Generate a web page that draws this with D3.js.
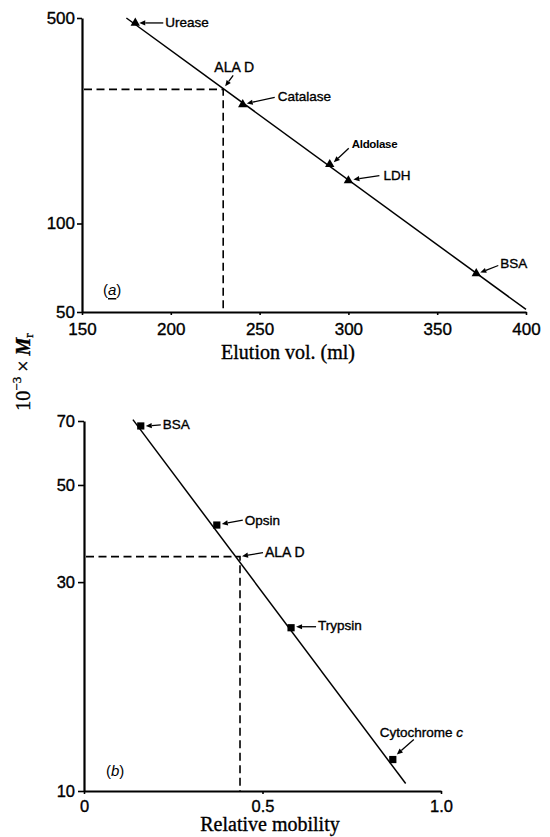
<!DOCTYPE html>
<html><head><meta charset="utf-8">
<script src="https://cdn.jsdelivr.net/npm/d3@7"></script>
<style>
body{margin:0;background:#fff;}
svg{display:block;}
text{fill:#000;}
.heavy{stroke:#000;stroke-width:0.35px;}
</style></head>
<body>
<svg id="c" width="550" height="837"></svg>
<script>
// ---------- Panel (a): gel filtration ----------
const aNames = ["Urease", "Catalase", "Aldolase", "LDH", "BSA"];
const aElution = [180, 240.5, 289.5, 300, 372];
const aMr = [481, 254, 159, 140, 67.6];
const aFitX = [175, 400];
const aFitY = [500, 51];
const aUnknown = {name: "ALA D", x: 229.5, y: 286};
const aXTicks = [150, 200, 250, 300, 350, 400];
const aYTicks = [50, 100, 500];

// ---------- Panel (b): SDS gel mobility ----------
const bNames = ["BSA", "Opsin", "Trypsin", "Cytochrome c"];
const bMobility = [0.159, 0.372, 0.580, 0.865];
const bMr = [68.2, 40.5, 23.6, 11.8];
const bFitX = [0.137, 0.901];
const bFitY = [70.5, 10.4];
const bUnknown = {name: "ALA D", x: 0.437, y: 34.3};
const bXTicks = [0, 0.5, 1.0];
const bYTicks = [10, 30, 50, 70];

const svg = d3.select("#c");
const SANS = "'Liberation Sans', Arial, Helvetica, sans-serif";
const SERIF = "'Liberation Serif', 'Times New Roman', serif";

function arrow(g, x1, y1, x2, y2) {
  const ang = Math.atan2(y2 - y1, x2 - x1);
  const L = 6, W = 2.6;
  const bx = x2 - L * Math.cos(ang), by = y2 - L * Math.sin(ang);
  g.append("line").attr("x1", x1).attr("y1", y1).attr("x2", bx).attr("y2", by)
    .attr("stroke", "#000").attr("stroke-width", 1.3);
  const px = -Math.sin(ang) * W, py = Math.cos(ang) * W;
  g.append("path")
    .attr("d", `M${x2},${y2}L${bx + px},${by + py}L${bx - px},${by - py}Z`)
    .attr("fill", "#000");
}

function panel(cfg) {
  const g = svg.append("g");
  const x = d3.scaleLinear().domain(cfg.xDomain).range(cfg.xRange);
  const y = d3.scaleLog().domain(cfg.yDomain).range(cfg.yRange);

  // axes
  const xa = g.append("g").attr("transform", `translate(0,${cfg.yRange[0]})`)
    .call(d3.axisBottom(x).tickValues(cfg.xTicks).tickSize(cfg.xTickSize).tickSizeOuter(0)
      .tickPadding(cfg.xPad).tickFormat(cfg.xFmt));
  const ya = g.append("g").attr("transform", `translate(${cfg.xRange[0]},0)`)
    .call(d3.axisLeft(y).tickValues(cfg.yTicks).tickSize(cfg.yTickSize).tickSizeOuter(0)
      .tickPadding(cfg.yPad).tickFormat(d3.format("d")));
  [xa, ya].forEach(a => {
    a.select(".domain").attr("stroke", "#000").attr("stroke-width", 2.2);
    a.selectAll(".tick line").attr("stroke", "#000").attr("stroke-width", 1.6);
    a.selectAll("text").attr("font-family", SANS).attr("font-size", cfg.tickFont).attr("fill", "#000")
      .attr("class", "heavy");
  });

  // dashed read-off lines
  const ux = x(cfg.unknown.x), uy = y(cfg.unknown.y);
  g.append("path")
    .attr("d", `M${cfg.xRange[0] + 2},${uy}L${ux},${uy}L${ux},${cfg.yRange[0]}`)
    .attr("fill", "none").attr("stroke", "#000").attr("stroke-width", 1.6)
    .attr("stroke-dasharray", "8,4.5");

  // fitted line
  g.append("line")
    .attr("x1", x(cfg.fitX[0])).attr("y1", y(cfg.fitY[0]))
    .attr("x2", x(cfg.fitX[1])).attr("y2", y(cfg.fitY[1]))
    .attr("stroke", "#000").attr("stroke-width", 1.5);

  // markers
  const sym = d3.symbol().type(cfg.symbol).size(cfg.symbolSize);
  g.selectAll(".pt").data(cfg.xs).join("path").attr("class", "pt")
    .attr("d", sym)
    .attr("transform", (d, i) => `translate(${x(d)},${y(cfg.ys[i])})`)
    .attr("fill", "#000");

  // labels with arrows
  cfg.names.forEach((n, i) => {
    const px = x(cfg.xs[i]), py = y(cfg.ys[i]);
    const L = cfg.labelLayout[i];
    const t = g.append("text").attr("x", px + L.tx).attr("y", py + L.ty)
      .attr("dominant-baseline", "central")
      .attr("font-family", SANS).attr("font-size", L.fs || 13.5)
      .attr("font-weight", L.bold ? "bold" : "normal")
      .attr("class", L.bold ? null : "heavy");
    if (n === "Cytochrome c") {
      t.append("tspan").text("Cytochrome ");
      t.append("tspan").attr("font-style", "italic").text("c");
    } else t.text(n);
    if (L.squash) t.attr("letter-spacing", L.squash);
    arrow(g, px + L.ax, py + L.ay, px + L.ex, py + L.ey);
  });

  // unknown label
  const U = cfg.unknownLayout;
  g.append("text").attr("x", ux + U.tx).attr("y", uy + U.ty)
    .attr("dominant-baseline", "central").attr("text-anchor", U.anchor)
    .attr("font-family", SANS).attr("font-size", 14).attr("class", "heavy").text(cfg.unknown.name);
  arrow(g, ux + U.ax, uy + U.ay, ux + U.ex, uy + U.ey);

  // panel letter
  const pl = g.append("text").attr("x", cfg.letterPos[0]).attr("y", cfg.letterPos[1])
    .attr("dominant-baseline", "central")
    .attr("font-family", SANS).attr("font-size", 15);
  pl.append("tspan").text("(");
  pl.append("tspan").attr("font-style", "italic").attr("text-decoration", cfg.underline ? "underline" : "none").text(cfg.letter);
  pl.append("tspan").text(")");

  // x title
  g.append("text").attr("x", cfg.xTitlePos[0]).attr("y", cfg.xTitlePos[1])
    .attr("dominant-baseline", "central").attr("text-anchor", "middle")
    .attr("font-family", SERIF).attr("font-size", 20).attr("class", "heavy").text(cfg.xTitle);
  return g;
}

panel({
  xDomain: [150, 400], xRange: [82, 526],
  yDomain: [50, 500], yRange: [312, 18],
  xTicks: aXTicks, yTicks: aYTicks, xFmt: d3.format("d"),
  xTickSize: 3, xPad: 8, yTickSize: 5, yPad: 2, tickFont: 17,
  unknown: aUnknown, fitX: aFitX, fitY: aFitY,
  xs: aElution, ys: aMr, names: aNames,
  symbol: d3.symbolTriangle, symbolSize: 38,
  labelLayout: [
    {tx: 30, ty: 0, ax: 28, ay: 0, ex: 4, ey: 0},
    {tx: 35, ty: -8, ax: 32, ay: -7, ex: 4, ey: -1},
    {tx: 22, ty: -20, ax: 19, ay: -16, ex: 4, ey: -2, bold: true, fs: 11.5, squash: "-0.3"},
    {tx: 35, ty: -5, ax: 31, ay: -5, ex: 5, ey: -1},
    {tx: 24, ty: -10, ax: 22, ay: -8, ex: 4, ey: -1}
  ],
  unknownLayout: {tx: 11, ty: -22, anchor: "middle", ax: 10, ay: -14, ex: 2, ey: -3},
  letter: "a", underline: true, letterPos: [103, 289],
  xTitle: "Elution vol. (ml)", xTitlePos: [288, 352]
});

panel({
  xDomain: [0, 1], xRange: [84, 441],
  yDomain: [10, 70], yRange: [791, 421],
  xTicks: bXTicks, yTicks: bYTicks, xFmt: d => d === 0 ? "0" : d3.format(".1f")(d),
  xTickSize: 3, xPad: 6, yTickSize: 6, yPad: 3, tickFont: 16.5,
  unknown: bUnknown, fitX: bFitX, fitY: bFitY,
  xs: bMobility, ys: bMr, names: bNames,
  symbol: d3.symbolSquare, symbolSize: 52,
  labelLayout: [
    {tx: 22, ty: -1, ax: 20, ay: -1, ex: 5, ey: 0},
    {tx: 28, ty: -5, ax: 26, ay: -5, ex: 5, ey: -1},
    {tx: 27, ty: -2, ax: 25, ay: -1, ex: 5, ey: -1},
    {tx: -13, ty: -28, ax: 21, ay: -20, ex: 4, ey: -5, fs: 13.5}
  ],
  unknownLayout: {tx: 25, ty: -5, anchor: "start", ax: 23, ay: -4, ex: 2, ey: -0.5},
  letter: "b", underline: false, letterPos: [106, 770],
  xTitle: "Relative mobility", xTitlePos: [270, 824]
});

// shared y title
const yt = svg.append("text")
  .attr("transform", "translate(23,372) rotate(-90)")
  .attr("text-anchor", "middle").attr("dominant-baseline", "central")
  .attr("font-family", SERIF).attr("font-size", 20).attr("class", "heavy");
yt.append("tspan").text("10");
yt.append("tspan").attr("font-size", 13).attr("dy", -7).text("−3");
yt.append("tspan").attr("dy", 7).text(" × ");
yt.append("tspan").attr("font-style", "italic").attr("font-weight", "bold").text("M");
yt.append("tspan").attr("font-size", 13).attr("dy", 5).text("r");
</script>
</body></html>
